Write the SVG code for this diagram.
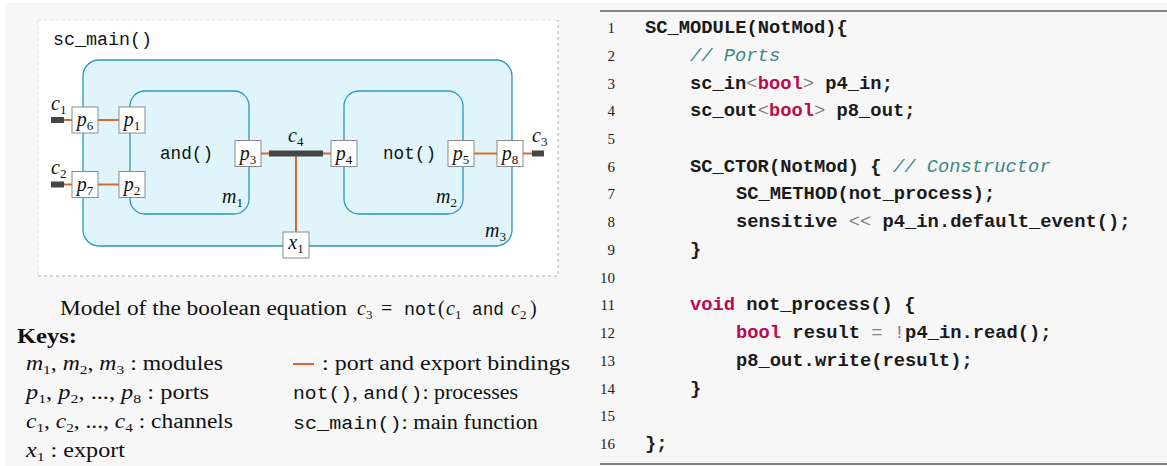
<svg xmlns="http://www.w3.org/2000/svg" width="1167" height="466" viewBox="0 0 1167 466">
<style>
.ser{font-family:"Liberation Serif","Times New Roman",serif;fill:#111;}
.it{font-style:italic;}
.mono{font-family:"Liberation Mono","Courier New",monospace;fill:#111;}
.sub{font-size:13px;font-style:normal;}
.mod{fill:#dff5fb;stroke:#2b97bd;stroke-width:1.3;}
.port{fill:#fff;stroke:#8a8a8a;stroke-width:1;}
.bind{stroke:#d9692a;stroke-width:2;fill:none;}
.chan{fill:#454545;}
.code{font-family:"Liberation Mono","Courier New",monospace;font-size:18.8px;font-weight:bold;fill:#1a1a1a;white-space:pre;}
.kw{fill:#b80c4c;}
.cm{fill:#3b8888;font-style:italic;font-weight:normal;}
.op{fill:#808080;font-weight:normal;}
.ln{font-family:"Liberation Serif","Times New Roman",serif;font-size:15px;fill:#222;text-anchor:end;}
</style>
<rect x="0" y="0" width="1167" height="466" fill="#ffffff"/>
<rect x="5" y="3" width="1162" height="463" fill="#f7f7f7"/>
<!-- sc_main frame -->
<g id="sc_main">
<rect x="38" y="20" width="520" height="256" fill="#ffffff"/>
<path d="M38 20 H558" stroke="#e4e4e4" stroke-width="1" stroke-dasharray="3,3" fill="none"/>
<path d="M38 20 V276" stroke="#e0e0e0" stroke-width="1" stroke-dasharray="3,3" fill="none"/>
<path d="M38 276 H558 V20" stroke="#b0b0b0" stroke-width="1" stroke-dasharray="3,3" fill="none"/>
<text x="53" y="45" class="mono" font-size="18" textLength="99" lengthAdjust="spacingAndGlyphs">sc_main()</text>
</g>
<g id="m3">
<rect x="83" y="60" width="429" height="186" rx="16" class="mod"/>
<text x="485" y="237" class="ser it" font-size="20">m<tspan class="sub" dy="4">3</tspan></text>
</g>
<g id="m1">
<rect x="130" y="91" width="119" height="123" rx="15" class="mod"/>
<text x="160" y="159" class="mono" font-size="18" textLength="53" lengthAdjust="spacingAndGlyphs">and()</text>
<text x="222" y="203" class="ser it" font-size="20">m<tspan class="sub" dy="4">1</tspan></text>
</g>
<g id="m2">
<rect x="344" y="91" width="119" height="123" rx="15" class="mod"/>
<text x="383" y="159" class="mono" font-size="18" textLength="53" lengthAdjust="spacingAndGlyphs">not()</text>
<text x="436" y="203" class="ser it" font-size="20">m<tspan class="sub" dy="4">2</tspan></text>
</g>
<g id="connectors">
<line x1="64" y1="120" x2="72" y2="120" class="bind"/>
<line x1="98" y1="120" x2="119" y2="120" class="bind"/>
<line x1="64" y1="184.5" x2="72" y2="184.5" class="bind"/>
<line x1="98" y1="184.5" x2="119" y2="184.5" class="bind"/>
<line x1="260" y1="153.5" x2="269" y2="153.5" class="bind"/>
<line x1="323" y1="153.5" x2="331" y2="153.5" class="bind"/>
<line x1="296" y1="156" x2="296" y2="232" class="bind"/>
<line x1="474" y1="153.5" x2="497" y2="153.5" class="bind"/>
<line x1="523" y1="153.5" x2="532" y2="153.5" class="bind"/>
</g>
<g id="c1">
<rect x="51" y="117" width="13" height="6" class="chan"/>
<text x="51" y="110" class="ser it" font-size="20">c<tspan class="sub" dy="4">1</tspan></text>
</g>
<g id="c2">
<rect x="51" y="181.5" width="13" height="6" class="chan"/>
<text x="51" y="174" class="ser it" font-size="20">c<tspan class="sub" dy="4">2</tspan></text>
</g>
<g id="c4">
<rect x="269" y="150.5" width="54" height="6" class="chan"/>
<text x="288" y="142" class="ser it" font-size="20">c<tspan class="sub" dy="4">4</tspan></text>
</g>
<g id="c3">
<rect x="532" y="150.5" width="12" height="6" class="chan"/>
<text x="532" y="142" class="ser it" font-size="20">c<tspan class="sub" dy="4">3</tspan></text>
</g>
<g id="p6"><rect x="72" y="107" width="26" height="26" class="port"/><text x="85" y="126" text-anchor="middle" class="ser it" font-size="20">p<tspan class="sub" dy="4">6</tspan></text></g>
<g id="p1"><rect x="119" y="107" width="26" height="26" class="port"/><text x="132" y="126" text-anchor="middle" class="ser it" font-size="20">p<tspan class="sub" dy="4">1</tspan></text></g>
<g id="p7"><rect x="72" y="171.5" width="26" height="26" class="port"/><text x="85" y="190.5" text-anchor="middle" class="ser it" font-size="20">p<tspan class="sub" dy="4">7</tspan></text></g>
<g id="p2"><rect x="119" y="171.5" width="26" height="26" class="port"/><text x="132" y="190.5" text-anchor="middle" class="ser it" font-size="20">p<tspan class="sub" dy="4">2</tspan></text></g>
<g id="p3"><rect x="235" y="140.5" width="26" height="26" class="port"/><text x="248" y="159.5" text-anchor="middle" class="ser it" font-size="20">p<tspan class="sub" dy="4">3</tspan></text></g>
<g id="p4"><rect x="331" y="140.5" width="26" height="26" class="port"/><text x="344" y="159.5" text-anchor="middle" class="ser it" font-size="20">p<tspan class="sub" dy="4">4</tspan></text></g>
<g id="p5"><rect x="448" y="140.5" width="26" height="26" class="port"/><text x="461" y="159.5" text-anchor="middle" class="ser it" font-size="20">p<tspan class="sub" dy="4">5</tspan></text></g>
<g id="p8"><rect x="497" y="140.5" width="26" height="26" class="port"/><text x="510" y="159.5" text-anchor="middle" class="ser it" font-size="20">p<tspan class="sub" dy="4">8</tspan></text></g>
<g id="x1"><rect x="283" y="232" width="26" height="26" class="port"/><text x="296" y="249" text-anchor="middle" class="ser it" font-size="20">x<tspan class="sub" dy="4">1</tspan></text></g>
<!-- caption and keys -->
<g id="caption">
<text x="60" y="315" class="ser" font-size="20" textLength="287" lengthAdjust="spacingAndGlyphs">Model of the boolean equation</text>
<text x="357" y="315" class="ser it" font-size="20">c<tspan class="sub" dy="4">3</tspan></text>
<text x="381" y="315" class="ser" font-size="20">=</text>
<text x="404" y="315" class="mono" font-size="18" textLength="33" lengthAdjust="spacingAndGlyphs">not</text>
<text x="438" y="315" class="ser" font-size="20">(</text>
<text x="446" y="315" class="ser it" font-size="20">c<tspan class="sub" dy="4">1</tspan></text>
<text x="472" y="315" class="mono" font-size="18" textLength="32" lengthAdjust="spacingAndGlyphs">and</text>
<text x="511" y="315" class="ser it" font-size="20">c<tspan class="sub" dy="4">2</tspan></text>
<text x="530" y="315" class="ser" font-size="20">)</text>
</g>
<g id="keys">
<text x="17" y="343" class="ser" font-size="20" font-weight="bold" textLength="60" lengthAdjust="spacingAndGlyphs">Keys:</text>
<text x="26" y="370" class="ser" font-size="20" textLength="197" lengthAdjust="spacingAndGlyphs"><tspan class="it">m</tspan><tspan class="sub" dy="4">1</tspan><tspan dy="-4">, </tspan><tspan class="it">m</tspan><tspan class="sub" dy="4">2</tspan><tspan dy="-4">, </tspan><tspan class="it">m</tspan><tspan class="sub" dy="4">3</tspan><tspan dy="-4"> : modules</tspan></text>
<text x="26" y="399" class="ser" font-size="20" textLength="183" lengthAdjust="spacingAndGlyphs"><tspan class="it">p</tspan><tspan class="sub" dy="4">1</tspan><tspan dy="-4">, </tspan><tspan class="it">p</tspan><tspan class="sub" dy="4">2</tspan><tspan dy="-4">, ..., </tspan><tspan class="it">p</tspan><tspan class="sub" dy="4">8</tspan><tspan dy="-4"> : ports</tspan></text>
<text x="26" y="428" class="ser" font-size="20" textLength="207" lengthAdjust="spacingAndGlyphs"><tspan class="it">c</tspan><tspan class="sub" dy="4">1</tspan><tspan dy="-4">, </tspan><tspan class="it">c</tspan><tspan class="sub" dy="4">2</tspan><tspan dy="-4">, ..., </tspan><tspan class="it">c</tspan><tspan class="sub" dy="4">4</tspan><tspan dy="-4"> : channels</tspan></text>
<text x="26" y="457" class="ser" font-size="20" textLength="99" lengthAdjust="spacingAndGlyphs"><tspan class="it">x</tspan><tspan class="sub" dy="4">1</tspan><tspan dy="-4"> : export</tspan></text>
<line x1="293" y1="364" x2="314" y2="364" class="bind"/>
<text x="322" y="370" class="ser" font-size="20" textLength="248" lengthAdjust="spacingAndGlyphs">: port and export bindings</text>
<text x="293" y="399" class="ser" font-size="20" textLength="225" lengthAdjust="spacingAndGlyphs"><tspan class="mono" font-size="18">not()</tspan>, <tspan class="mono" font-size="18">and()</tspan>: processes</text>
<text x="293" y="429" class="ser" font-size="20" textLength="245" lengthAdjust="spacingAndGlyphs"><tspan class="mono" font-size="18">sc_main()</tspan>: main function</text>
</g>
<!-- code listing -->
<g id="code">
<line x1="600" y1="11" x2="1167" y2="11" stroke="#111" stroke-width="1.2"/>
<line x1="600" y1="464" x2="1167" y2="464" stroke="#111" stroke-width="1.2"/>
<text x="615" y="33" class="ln">1</text>
<text x="615" y="60.7" class="ln">2</text>
<text x="615" y="88.5" class="ln">3</text>
<text x="615" y="116.2" class="ln">4</text>
<text x="615" y="143.9" class="ln">5</text>
<text x="615" y="171.7" class="ln">6</text>
<text x="615" y="199.4" class="ln">7</text>
<text x="615" y="227.1" class="ln">8</text>
<text x="615" y="254.8" class="ln">9</text>
<text x="615" y="282.6" class="ln">10</text>
<text x="615" y="310.3" class="ln">11</text>
<text x="615" y="338" class="ln">12</text>
<text x="615" y="365.8" class="ln">13</text>
<text x="615" y="393.5" class="ln">14</text>
<text x="615" y="421.2" class="ln">15</text>
<text x="615" y="449" class="ln">16</text>
<text x="645" y="33" class="code" xml:space="preserve">SC_MODULE(NotMod){</text>
<text x="690" y="60.7" class="code" xml:space="preserve"><tspan class="cm">// Ports</tspan></text>
<text x="690" y="88.5" class="code" xml:space="preserve">sc_in<tspan class="op">&lt;</tspan><tspan class="kw">bool</tspan><tspan class="op">&gt;</tspan> p4_in;</text>
<text x="690" y="116.2" class="code" xml:space="preserve">sc_out<tspan class="op">&lt;</tspan><tspan class="kw">bool</tspan><tspan class="op">&gt;</tspan> p8_out;</text>
<text x="690" y="171.7" class="code" xml:space="preserve">SC_CTOR(NotMod) { <tspan class="cm">// Constructor</tspan></text>
<text x="736" y="199.4" class="code" xml:space="preserve">SC_METHOD(not_process);</text>
<text x="736" y="227.1" class="code" xml:space="preserve">sensitive <tspan class="op">&lt;&lt;</tspan> p4_in.default_event();</text>
<text x="690" y="254.8" class="code" xml:space="preserve">}</text>
<text x="690" y="310.3" class="code" xml:space="preserve"><tspan class="kw">void</tspan> not_process() {</text>
<text x="736" y="338" class="code" xml:space="preserve"><tspan class="kw">bool</tspan> result <tspan class="op">=</tspan> <tspan class="op">!</tspan>p4_in.read();</text>
<text x="736" y="365.8" class="code" xml:space="preserve">p8_out.write(result);</text>
<text x="690" y="393.5" class="code" xml:space="preserve">}</text>
<text x="645" y="449" class="code" xml:space="preserve">};</text>
</g>
</svg>
